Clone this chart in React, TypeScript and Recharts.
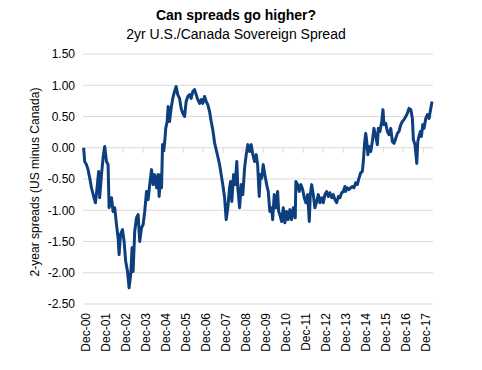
import React from 'react';
import { LineChart, Line, XAxis, YAxis, CartesianGrid, ReferenceLine } from 'recharts';

// Decimal-year dates and 2-year US minus Canada spreads (percentage points)
const dates = [
  2000.95, 2001.0, 2001.09, 2001.17, 2001.25, 2001.34, 2001.45, 2001.54, 2001.62, 2001.7,
  2001.75, 2001.84, 2001.92, 2002.0, 2002.09, 2002.17, 2002.22, 2002.34, 2002.42, 2002.5,
  2002.59, 2002.67, 2002.72, 2002.79, 2002.89, 2002.97, 2003.05, 2003.14, 2003.22, 2003.3,
  2003.37, 2003.42, 2003.5, 2003.59, 2003.67, 2003.75, 2003.84, 2003.92, 2004.0, 2004.09,
  2004.17, 2004.25, 2004.34, 2004.42, 2004.5, 2004.59, 2004.67, 2004.72, 2004.8, 2004.84,
  2004.89, 2004.95, 2005.0, 2005.05, 2005.12, 2005.17, 2005.24, 2005.32, 2005.4, 2005.49,
  2005.57, 2005.65, 2005.74, 2005.82, 2005.9, 2005.99, 2006.07, 2006.15, 2006.24, 2006.32,
  2006.4, 2006.49, 2006.57, 2006.65, 2006.74, 2006.82, 2006.9, 2006.99, 2007.07, 2007.15,
  2007.24, 2007.32, 2007.4, 2007.49, 2007.57, 2007.65, 2007.74, 2007.82, 2007.9, 2007.99,
  2008.07, 2008.15, 2008.24, 2008.29, 2008.35, 2008.44, 2008.52, 2008.6, 2008.65, 2008.74,
  2008.82, 2008.9, 2008.99, 2009.07, 2009.15, 2009.24, 2009.32, 2009.4, 2009.49, 2009.57,
  2009.64, 2009.72, 2009.77, 2009.84, 2009.92, 2010.0, 2010.09, 2010.17, 2010.25, 2010.34,
  2010.39, 2010.47, 2010.55, 2010.64, 2010.69, 2010.75, 2010.84, 2010.92, 2011.0, 2011.09,
  2011.17, 2011.25, 2011.34, 2011.42, 2011.52, 2011.55, 2011.64, 2011.72, 2011.8, 2011.89,
  2011.97, 2012.05, 2012.14, 2012.22, 2012.27, 2012.34, 2012.42, 2012.5, 2012.59, 2012.67,
  2012.75, 2012.84, 2012.92, 2013.0, 2013.09, 2013.17, 2013.25, 2013.34, 2013.42, 2013.5,
  2013.59, 2013.67, 2013.75, 2013.84, 2013.92, 2014.0, 2014.04, 2014.12, 2014.2, 2014.29,
  2014.37, 2014.45, 2014.54, 2014.62, 2014.7, 2014.79, 2014.87, 2014.92, 2014.99, 2015.04,
  2015.09, 2015.15, 2015.2, 2015.29, 2015.37, 2015.45, 2015.54, 2015.62, 2015.67, 2015.75,
  2015.84, 2015.9, 2015.95, 2016.04, 2016.12, 2016.2, 2016.29, 2016.37, 2016.45, 2016.54,
  2016.62, 2016.7, 2016.79, 2016.87, 2016.95, 2017.04, 2017.12, 2017.2, 2017.29, 2017.37,
  2017.42, 2017.5, 2017.59, 2017.64, 2017.7, 2017.77, 2017.82, 2017.89, 2017.95, 2018.04,
  2018.12, 2018.2, 2018.29, 2018.35,
];

const spreads = [
  0.0, -0.22, -0.27, -0.35, -0.48, -0.64, -0.78, -0.88, -0.64, -0.38,
  -0.8, -0.43, -0.16, 0.02, -0.22, -0.27, -0.96, -0.8, -1.02, -0.96,
  -1.23, -1.44, -1.71, -1.39, -1.31, -1.5, -1.82, -1.98, -2.24, -2.03,
  -1.6, -1.98, -1.34, -1.12, -1.07, -1.5, -1.28, -1.23, -1.02, -0.7,
  -0.83, -0.59, -0.35, -0.59, -0.43, -0.64, -0.43, -0.78, -0.43, -0.64,
  0.05, -0.05, 0.1, 0.31, 0.42, 0.66, 0.42, 0.63, 0.79, 0.9,
  0.98, 0.85, 0.79, 0.63, 0.55, 0.5, 0.74, 0.82, 0.85, 0.79,
  0.9, 0.93, 0.85, 0.77, 0.71, 0.77, 0.71, 0.82, 0.74, 0.69,
  0.58, 0.42, 0.29, 0.08, -0.03, -0.14, -0.27, -0.43, -0.59, -0.8,
  -1.15, -0.96, -0.64, -0.54, -0.86, -0.43, -0.59, -0.22, -0.64, -0.96,
  -0.59, -0.75, -0.32, -0.11, 0.05, -0.06, 0.05, -0.11, -0.22, -0.11,
  -0.27, -0.78, -0.43, -0.49, -0.27, -0.43, -0.59, -0.7, -1.02, -0.96,
  -1.15, -0.75, -0.96, -0.7, -1.02, -1.07, -1.18, -0.96, -1.2, -1.02,
  -1.15, -0.99, -1.15, -0.96, -1.12, -0.54, -0.59, -0.7, -0.59, -0.67,
  -0.8, -0.88, -0.75, -1.18, -0.75, -0.59, -0.75, -0.96, -0.86, -0.75,
  -0.88, -0.8, -0.88, -0.75, -0.7, -0.78, -0.72, -0.8, -0.75, -0.83,
  -0.88, -0.78, -0.8, -0.72, -0.7, -0.62, -0.7, -0.64, -0.67, -0.64,
  -0.62, -0.64, -0.56, -0.59, -0.49, -0.4, -0.38, -0.22, 0.1, 0.23,
  0.1, -0.11, 0.02, -0.06, 0.1, 0.31, 0.18, 0.05, 0.31, 0.26,
  0.42, 0.61, 0.37, 0.39, 0.26, 0.21, 0.31, 0.1, 0.07, 0.15,
  0.23, 0.26, 0.37, 0.42, 0.45, 0.5, 0.55, 0.63, 0.61, 0.47,
  0.13, 0.05, -0.25, 0.1, 0.18, 0.26, 0.18, 0.37, 0.31, 0.47,
  0.53, 0.47, 0.63, 0.74,
];

// December of each year
const tickYears = [
  2000.917, 2001.917, 2002.917, 2003.917, 2004.917, 2005.917, 2006.917, 2007.917, 2008.917,
  2009.917, 2010.917, 2011.917, 2012.917, 2013.917, 2014.917, 2015.917, 2016.917, 2017.917,
];
const tickLabels = [
  'Dec-00', 'Dec-01', 'Dec-02', 'Dec-03', 'Dec-04', 'Dec-05', 'Dec-06', 'Dec-07', 'Dec-08',
  'Dec-09', 'Dec-10', 'Dec-11', 'Dec-12', 'Dec-13', 'Dec-14', 'Dec-15', 'Dec-16', 'Dec-17',
];
const yTicks = [-2.5, -2, -1.5, -1, -0.5, 0, 0.5, 1, 1.5];

const data = dates.map((t, i) => ({ t, v: spreads[i] }));

const FONT = '"Liberation Sans", Arial, sans-serif';

const XTick = (props: any) => {
  const { x, y, payload } = props;
  let idx = 0;
  let best = Infinity;
  tickYears.forEach((t, i) => {
    const d = Math.abs(t - payload.value);
    if (d < best) {
      best = d;
      idx = i;
    }
  });
  const cx = x + 2.5;
  return (
    <text
      x={cx}
      y={y}
      transform={`rotate(-90, ${cx}, ${y})`}
      textAnchor="end"
      dy="0.35em"
      fontSize={12}
      fill="#000"
      fontFamily={FONT}
    >
      {tickLabels[idx]}
    </text>
  );
};

export default function App() {
  return (
    <div style={{ position: 'absolute', left: 0, top: 0, width: 482, height: 370, background: '#fff', fontFamily: FONT }}>
      <div style={{ position: 'absolute', left: 0, top: 7, width: 472, textAlign: 'center', fontSize: 14, lineHeight: '16px', fontWeight: 'bold', color: '#000' }}>
        Can spreads go higher?
      </div>
      <div style={{ position: 'absolute', left: 0, top: 25.5, width: 472, textAlign: 'center', fontSize: 14, lineHeight: '16px', color: '#000' }}>
        2yr U.S./Canada Sovereign Spread
      </div>
      <svg style={{ position: 'absolute', left: 0, top: 0 }} width={80} height={370}>
        <text
          x={35}
          y={182}
          transform="rotate(-90, 35, 182)"
          textAnchor="middle"
          dy="0.35em"
          fontSize={12}
          fill="#000"
          fontFamily={FONT}
        >
          2-year spreads (US minus Canada)
        </text>
      </svg>
      <div style={{ position: 'absolute', left: 0, top: 0 }}>
        <LineChart width={482} height={370} data={data} margin={{ top: 54, right: 49, bottom: 6, left: 0 }}>
          <CartesianGrid vertical={false} stroke="#D9D9D9" strokeWidth={1} />
          <XAxis
            type="number"
            dataKey="t"
            domain={[2000.917, 2018.4]}
            ticks={tickYears}
            tick={<XTick />}
            axisLine={false}
            tickLine={false}
            tickSize={0}
            tickMargin={9}
            height={60}
            interval={0}
          />
          <YAxis
            type="number"
            domain={[-2.5, 1.5]}
            ticks={yTicks}
            tickFormatter={(v: number) => v.toFixed(2)}
            axisLine={false}
            tickLine={false}
            tickSize={0}
            tickMargin={8}
            width={83}
            interval={0}
            tick={{ fontSize: 12, fill: '#000', fontFamily: FONT }}
          />
          {tickYears.map((t) => (
            <ReferenceLine
              key={t}
              segment={[{ x: t, y: 0 }, { x: t, y: -0.08 }]}
              stroke="#D9D9D9"
              strokeWidth={1}
            />
          ))}
          <Line
            type="linear"
            dataKey="v"
            stroke="#0D3E7E"
            strokeWidth={3}
            dot={false}
            isAnimationActive={false}
            strokeLinejoin="round"
          />
        </LineChart>
      </div>
    </div>
  );
}
